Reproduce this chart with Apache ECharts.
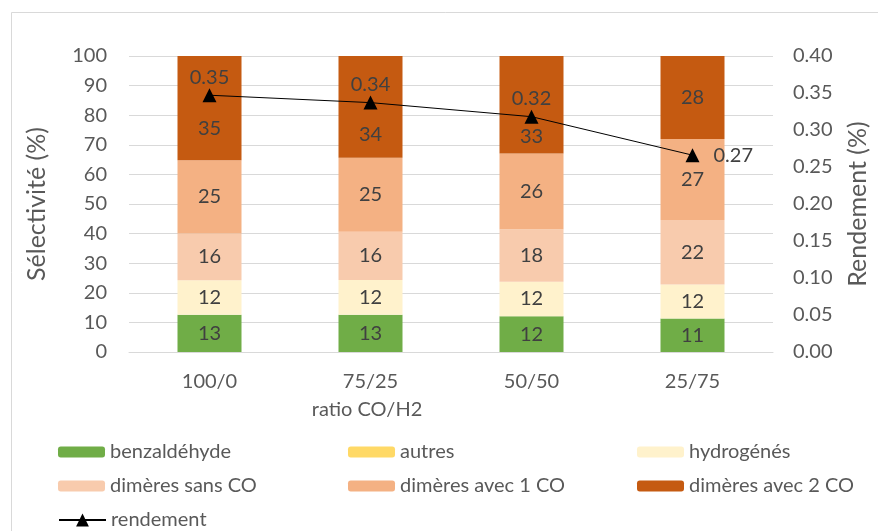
<!DOCTYPE html>
<html>
<head>
<meta charset="utf-8">
<script src="https://cdn.jsdelivr.net/npm/echarts@6/dist/echarts.min.js"></script>
<style>
html,body{margin:0;padding:0;background:#fff;}
#chart{width:878px;height:531px;}
</style>
</head>
<body>
<div id="chart"></div>
<script>
const categories = ['100/0', '75/25', '50/50', '25/75'];
const benzaldehyde = [12.6, 12.6, 12.1, 11.3];
const autres = [0, 0, 0, 0];
const hydrogenes = [11.6, 11.7, 11.6, 11.5];
const dimeresSansCO = [15.8, 16.3, 17.8, 21.8];
const dimeres1CO = [24.8, 25.0, 25.6, 27.4];
const dimeres2CO = [35.2, 34.4, 32.9, 28.0];
const rendement = [0.347, 0.337, 0.318, 0.266];
const leftTicks = {min: 0, max: 100, interval: 10};
const rightTicks = {min: 0, max: 0.4, interval: 0.05};

const FONT = 'Lato';
const TXT = '#595959';
const LBL = '#404040';

// manual label nudges (style only) for the top segment, as in the original
const topLabelNudge = [20, 28, 32, 0];

const barDefs = [
  ['benzaldéhyde', benzaldehyde, '#70AD47'],
  ['autres', autres, '#FFD966'],
  ['hydrogénés', hydrogenes, '#FFF2CC'],
  ['dimères sans CO', dimeresSansCO, '#F8CBAD'],
  ['dimères avec 1 CO', dimeres1CO, '#F4B183'],
  ['dimères avec 2 CO', dimeres2CO, '#C55A11']
];

const series = barDefs.map(([name, data, color], si) => ({
  name, type: 'bar', stack: 'total',
  data: si === barDefs.length - 1
    ? data.map((v, i) => ({value: v, label: {offset: [0, topLabelNudge[i]]}}))
    : data,
  barWidth: 64,
  itemStyle: {color},
  label: {
    show: true, position: 'inside', color: LBL, fontFamily: FONT, fontSize: 20,
    formatter: p => p.value >= 1 ? String(Math.round(p.value)) : ''
  }
}));

series.push({
  name: 'rendement', type: 'line', yAxisIndex: 1,
  data: rendement.map((v, i) => i === rendement.length - 1
    ? {value: v, label: {position: 'right', distance: 14}} : v),
  symbol: 'triangle', symbolSize: 14,
  lineStyle: {color: '#000', width: 1},
  itemStyle: {color: '#000'},
  label: {
    show: true, position: 'top', distance: 1, color: LBL, fontFamily: FONT, fontSize: 20,
    formatter: p => p.value.toFixed(2)
  },
  z: 5
});

const legendPos = [
  ['benzaldéhyde', 58, 442], ['autres', 348, 442], ['hydrogénés', 637, 442],
  ['dimères sans CO', 58, 476], ['dimères avec 1 CO', 348, 476], ['dimères avec 2 CO', 637, 476],
  ['rendement', 58, 510]
];

const legends = legendPos.map(([name, x, y]) => ({
  data: [name], left: x, top: y, padding: 0,
  itemWidth: 47, itemHeight: name === 'rendement' ? 16 : 11,
  itemGap: 0,
  textStyle: {color: TXT, fontFamily: FONT, fontSize: 20},
  selectedMode: false
}));

const chart = echarts.init(document.getElementById('chart'), null, {renderer: 'canvas'});
chart.setOption({
  animation: false,
  backgroundColor: '#fff',
  textStyle: {fontFamily: FONT},
  graphic: [{
    type: 'rect', left: 9, top: 10, silent: true,
    shape: {width: 900, height: 600},
    style: {fill: 'none', stroke: '#d9d9d9', lineWidth: 1}
  }],
  grid: {left: 129, right: 101, top: 56, bottom: 179},
  legend: legends,
  xAxis: {
    type: 'category', data: categories,
    name: 'ratio CO/H2', nameLocation: 'middle', nameGap: 48,
    nameTextStyle: {color: TXT, fontFamily: FONT, fontSize: 20, padding: [0, 168, 0, 0]},
    axisLine: {show: true, lineStyle: {color: '#d9d9d9'}},
    axisTick: {show: false},
    axisLabel: {color: TXT, fontFamily: FONT, fontSize: 20, margin: 20}
  },
  yAxis: [{
    type: 'value', min: leftTicks.min, max: leftTicks.max, interval: leftTicks.interval,
    name: 'Sélectivité (%)', nameLocation: 'middle', nameGap: 80, nameRotate: 90,
    nameTextStyle: {color: TXT, fontFamily: FONT, fontSize: 25},
    axisLine: {show: false}, axisTick: {show: false},
    axisLabel: {color: TXT, fontFamily: FONT, fontSize: 20, margin: 22},
    splitLine: {lineStyle: {color: '#d9d9d9', width: 1}}
  }, {
    type: 'value', min: rightTicks.min, max: rightTicks.max, interval: rightTicks.interval,
    name: 'Rendement (%)', nameLocation: 'middle', nameGap: 72, nameRotate: 90,
    nameTextStyle: {color: TXT, fontFamily: FONT, fontSize: 25},
    axisLine: {show: false}, axisTick: {show: false},
    axisLabel: {color: TXT, fontFamily: FONT, fontSize: 20, margin: 20,
      formatter: v => v.toFixed(2)},
    splitLine: {show: false}
  }],
  series
});
</script>
</body>
</html>
